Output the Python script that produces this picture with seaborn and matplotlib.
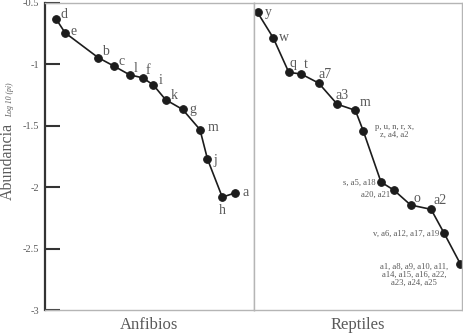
import pandas as pd
import seaborn as sns
import matplotlib.pyplot as plt

# rank-abundance values (x = position along the panel, 0-100)
anf_names = ['d', 'e', 'b', 'c', 'l', 'f', 'i', 'k', 'g', 'm', 'j', 'h', 'a']
anf_x = [5.3, 9.6, 25.5, 33.3, 40.6, 47.0, 52.0, 57.8, 66.0, 74.3, 77.9, 85.0, 91.2]
anf_y = [-0.630, -0.742, -0.945, -1.016, -1.085, -1.110, -1.169, -1.287, -1.367,
         -1.531, -1.771, -2.081, -2.046]

rep_names = ['y', 'w', 'q', 't', 'a7', 'a3', 'm',
             'p, u, n, r, x,\nz, a4, a2',
             's, a5, a18',
             'a20, a21',
             'o', 'a2',
             'v, a6, a12, a17, a19',
             'a1, a8, a9, a10, a11,\na14, a15, a16, a22,\na23, a24, a25']
rep_x = [1.9, 9.4, 16.9, 22.8, 31.2, 40.1, 48.8, 52.6, 61.1, 67.3, 75.3, 85.1, 91.3, 99.1]
rep_y = [-0.577, -0.783, -1.065, -1.078, -1.152, -1.324, -1.374, -1.542, -1.958,
         -2.024, -2.145, -2.180, -2.373, -2.623]

y_ticks = [-0.5, -1, -1.5, -2, -2.5, -3]
y_tick_labels = ['-0.5', '-1', '-1.5', '-2', '-2.5', '-3']
panel_titles = ['Anfibios', 'Reptiles']

anf = pd.DataFrame({'name': anf_names, 'x': anf_x, 'y': anf_y})
rep = pd.DataFrame({'name': rep_names, 'x': rep_x, 'y': rep_y})

sns.set_style('white')
plt.rcParams['font.family'] = ['Liberation Serif', 'DejaVu Serif']

ink = '#1c1c1c'
txt = '#5a5a5a'
frame = '#b5b5b5'

fig, axes = plt.subplots(1, 2, figsize=(4.64, 3.33), dpi=100, sharey=True)
fig.subplots_adjust(left=0.097, right=0.996, top=0.991, bottom=0.069, wspace=0)

# label placement: (dx, dy) in pixels
anf_lab = {
    'd': (8, 4), 'e': (9, 1), 'b': (7, 6), 'c': (7, 5), 'l': (6, 6), 'f': (5, 7),
    'i': (7, 5), 'k': (9, 4), 'g': (10, 0), 'm': (13, 2), 'j': (8, -1),
    'h': (0, -13), 'a': (10, 0),
}
# (dx, dy, ha, va, fontsize)
rep_lab = [
    (11, 0, 'center', 'center', 10), (11, 0, 'center', 'center', 10),
    (4, 9, 'center', 'center', 10), (5, 9, 'center', 'center', 10),
    (6, 9, 'center', 'center', 10), (5, 9, 'center', 'center', 10),
    (10, 8, 'center', 'center', 10),
    (31, 0, 'center', 'center', 6.2),
    (-5, -1, 'right', 'center', 6.2),
    (-4, -5, 'right', 'center', 6.2),
    (6, 7, 'center', 'center', 10), (9, 9, 'center', 'center', 10),
    (-5, -1, 'right', 'center', 6.2),
    (-46, 1, 'center', 'top', 6.2),
]

for ax, df, title in zip(axes, [anf, rep], panel_titles):
    sns.lineplot(data=df, x='x', y='y', ax=ax, color=ink, linewidth=1.2,
                 marker='o', markersize=5.5, markeredgecolor=ink, sort=False,
                 clip_on=False)
    ax.set_xlim(0, 100)
    ax.set_ylim(-3, -0.5)
    ax.set_xticks([])
    ax.set_xlabel(title, fontsize=12, color=txt, labelpad=5)
    ax.set_ylabel('')
    for s in ax.spines.values():
        s.set_color(frame)
        s.set_linewidth(1.0)

for _, r in anf.iterrows():
    dx, dy = anf_lab[r['name']]
    axes[0].annotate(r['name'], (r['x'], r['y']), xytext=(dx, dy),
                     textcoords='offset pixels', ha='center', va='center',
                     fontsize=10, color=txt)

for (_, r), (dx, dy, ha, va, fs) in zip(rep.iterrows(), rep_lab):
    axes[1].annotate(r['name'], (r['x'], r['y']), xytext=(dx, dy),
                     textcoords='offset pixels', ha=ha, va=va,
                     fontsize=fs, color=txt, linespacing=1.0,
                     multialignment='center')

ax0 = axes[0]
ax0.spines['left'].set_color('#333333')
ax0.spines['left'].set_linewidth(1.6)
ax0.set_yticks(y_ticks)
ax0.set_yticklabels(y_tick_labels)
ax0.tick_params(axis='y', direction='in', length=11, width=1.5, color='#333333',
                labelsize=7.5, labelcolor=txt, pad=4, left=True)
axes[1].tick_params(axis='y', left=False)

fig.text(0.017, 0.515, 'Abundancia', rotation=90, ha='center', va='center',
         fontsize=11.5, color=txt)
fig.text(0.022, 0.70, 'Log 10 (pi)', rotation=90, ha='center', va='center',
         fontsize=5.5, color=txt, style='italic')

fig.savefig('out.png', dpi=100)
